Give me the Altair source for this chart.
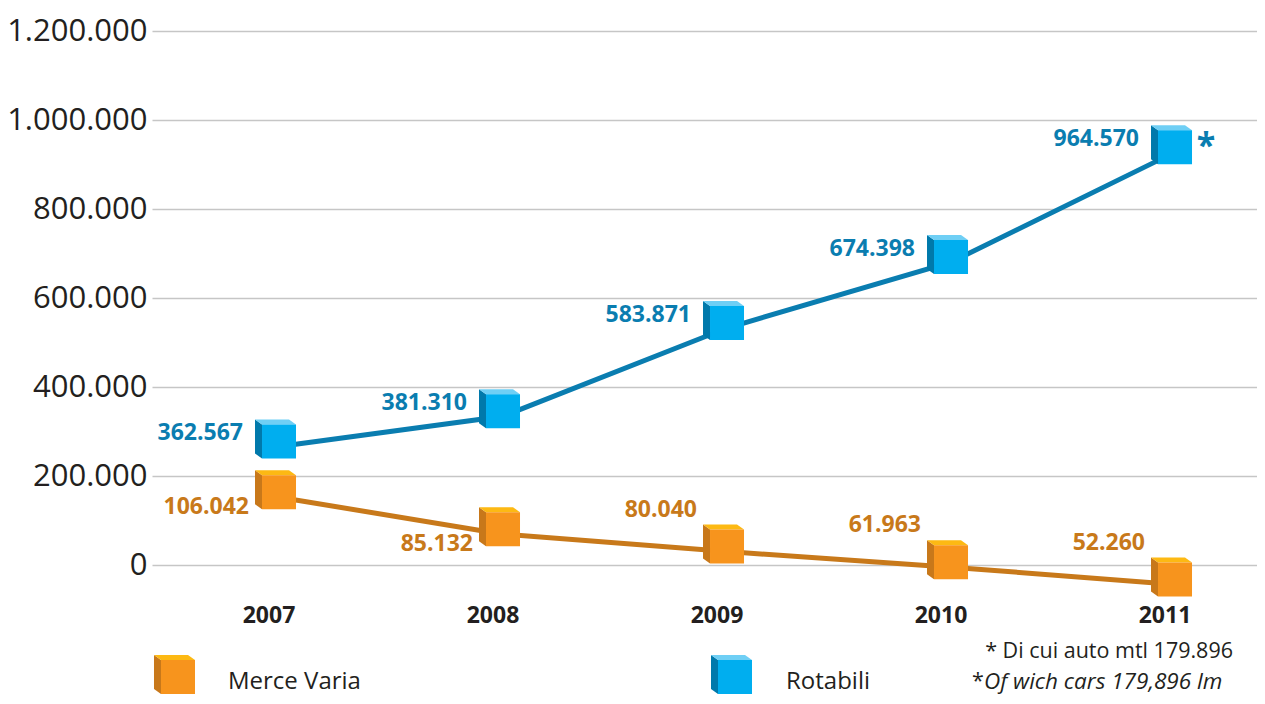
import altair as alt
import pandas as pd

# ---------------- data ----------------
years = [2007, 2008, 2009, 2010, 2011]
# plotted heights of the two lines as drawn in the original figure
rotabili_plot = [267000, 335000, 533000, 681000, 928000]
merce_plot = [153000, 70000, 31000, -4000, -43000]
# printed value labels
rotabili_labels = ["362.567", "381.310", "583.871", "674.398", "964.570"]
merce_labels = ["106.042", "85.132", "80.040", "61.963", "52.260"]
merce_label_side = ["below", "below", "above", "above", "above"]
y_ticks = [0, 200000, 400000, 600000, 800000, 1000000, 1200000]
series_names = ["Merce Varia", "Rotabili"]
footnote_1 = "* Di cui auto mtl 179.896"
footnote_2_star = "*"
footnote_2 = "Of wich cars 179,896 lm"

# ---------------- styles ----------------
FONT = "Open Sans"
INK = "#231f20"
GRID = "#c6c6c6"
BLUE_LINE = "#0a7db0"
BLUE_TXT = "#0a7db0"
BLUE_FRONT = "#00aeef"
BLUE_TOP = "#6fcff5"
BLUE_SIDE = "#0079ab"
OR_LINE = "#c8791a"
OR_TXT = "#c8791a"
OR_FRONT = "#f7941d"
OR_TOP = "#fdb913"
OR_SIDE = "#c8781a"

CUBE_SIZE = 1156  # -> 17 px per path unit
FRONT = "M-1,-1.294H1V0.706H-1Z"
TOP = "M-1,-1.294L-1.412,-1.588L0.588,-1.588L1,-1.294Z"
SIDE = "M-1,-1.294L-1.412,-1.588L-1.412,0.412L-1,0.706Z"

df_r = pd.DataFrame({"year": years, "value": rotabili_plot, "label": rotabili_labels,
                     "series": series_names[1]})
df_m = pd.DataFrame({"year": years, "value": merce_plot, "label": merce_labels,
                     "side": merce_label_side, "series": series_names[0]})

x_enc = alt.X("year:Q", scale=alt.Scale(domain=[2006.433, 2011.366], nice=False, zero=False),
              axis=None)
y_enc = alt.Y("value:Q",
              scale=alt.Scale(domain=[-80000, 1200000], nice=False, zero=False),
              axis=alt.Axis(values=y_ticks, title=None, grid=True, gridColor=GRID,
                            gridWidth=1.5, domain=False, ticks=False,
                            labelFont=FONT, labelFontSize=31, labelColor=INK,
                            labelPadding=5,
                            labelExpr="replace(format(datum.value, ',d'), regexp(',', 'g'), '.')"))


def cube(data, colors, x=None, y=None):
    front, top, side = colors
    layers = []
    for shape, col in [(SIDE, side), (TOP, top), (FRONT, front)]:
        ch = alt.Chart(data).mark_point(shape=shape, size=CUBE_SIZE, filled=True,
                                        color=col, opacity=1, strokeWidth=0)
        if x is None:
            ch = ch.encode(x=x_enc, y=y_enc)
        else:
            ch = ch.encode(x=alt.value(x), y=alt.value(y))
        layers.append(ch)
    return layers


layers = []
# lines
layers.append(alt.Chart(df_r).mark_line(color=BLUE_LINE, strokeWidth=5).encode(x=x_enc, y=y_enc))
layers.append(alt.Chart(df_m).mark_line(color=OR_LINE, strokeWidth=5).encode(x=x_enc, y=y_enc))
# cubes
layers += cube(df_r, (BLUE_FRONT, BLUE_TOP, BLUE_SIDE))
layers += cube(df_m, (OR_FRONT, OR_TOP, OR_SIDE))

lbl = dict(font=FONT, fontSize=23, fontWeight="bold", align="right", baseline="middle")
layers.append(alt.Chart(df_r).mark_text(dx=-36, dy=-13, color=BLUE_TXT, **lbl)
              .encode(x=x_enc, y=y_enc, text="label:N"))
layers.append(alt.Chart(df_m).transform_filter("datum.side == 'below'")
              .mark_text(dx=-30, dy=10, color=OR_TXT, **lbl)
              .encode(x=x_enc, y=y_enc, text="label:N"))
layers.append(alt.Chart(df_m).transform_filter("datum.side == 'above'")
              .mark_text(dx=-30, dy=-42, color=OR_TXT, **lbl)
              .encode(x=x_enc, y=y_enc, text="label:N"))
# asterisk on the last Rotabili point
layers.append(alt.Chart(df_r).transform_filter("datum.year == 2011")
              .mark_text(text="*", dx=31, dy=5, font=FONT, fontSize=34, fontWeight="bold",
                         color=BLUE_TXT, align="center", baseline="alphabetic")
              .encode(x=x_enc, y=y_enc))
# year labels
layers.append(alt.Chart(df_r).mark_text(dx=-10, font=FONT, fontSize=23, fontWeight="bold",
                                        color=INK, align="center", baseline="middle")
              .encode(x=x_enc, y=alt.value(585), text="year:N"))

# legend
one = pd.DataFrame({"k": [0]})
layers += cube(one, (OR_FRONT, OR_TOP, OR_SIDE), x=26, y=651)
layers += cube(one, (BLUE_FRONT, BLUE_TOP, BLUE_SIDE), x=583, y=651)
leg = dict(font=FONT, fontSize=24, color=INK, align="left", baseline="middle")
layers.append(alt.Chart(one).mark_text(text=series_names[0], **leg)
              .encode(x=alt.value(76), y=alt.value(651)))
layers.append(alt.Chart(one).mark_text(text=series_names[1], **leg)
              .encode(x=alt.value(634), y=alt.value(651)))

# footnote
fn = dict(font=FONT, color=INK, baseline="middle")
layers.append(alt.Chart(one).mark_text(text=footnote_1, align="right", fontSize=21.5, **fn)
              .encode(x=alt.value(1081), y=alt.value(621)))
layers.append(alt.Chart(one).mark_text(text=footnote_2_star, align="left", fontSize=21.5, **fn)
              .encode(x=alt.value(820), y=alt.value(651)))
layers.append(alt.Chart(one).mark_text(text=footnote_2, align="left", fontStyle="italic",
                                       fontSize=22.5, **fn)
              .encode(x=alt.value(832), y=alt.value(651)))

chart = (
    alt.layer(*layers)
    .properties(width=1105, height=570,
                autosize=alt.AutoSizeParams(type="none"),
                padding={"left": 144, "top": 23, "right": 0, "bottom": 95})
    .configure_view(stroke=None)
)

chart.save("out.html", embed_options={"renderer": "svg", "actions": False})
